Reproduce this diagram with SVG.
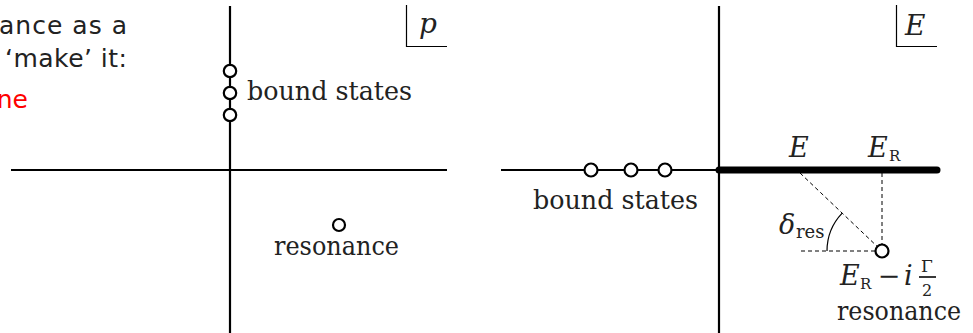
<svg xmlns="http://www.w3.org/2000/svg" width="973" height="333" viewBox="0 0 973 333">
<style>
.ax{stroke:#000;stroke-width:2.2;fill:none}
.thick{stroke:#000;stroke-width:7;stroke-linecap:round;fill:none}
.thin{stroke:#000;stroke-width:1.2;fill:none}
.dash{stroke:#000;stroke-width:1;stroke-dasharray:4 3;fill:none}
.pole{fill:#fff;stroke:#000;stroke-width:2.2}
.rm{font-family:"DejaVu Serif",serif;fill:#222}
.it{font-family:"DejaVu Serif",serif;font-style:italic;fill:#222}
.sans{font-family:"DejaVu Sans",sans-serif;font-size:25px;fill:#222}
</style>
<rect width="973" height="333" fill="#fff"/>
<g id="slide-text">
<text class="sans" x="127" y="34" text-anchor="end" textLength="128" lengthAdjust="spacing">ance as a</text>
<text class="sans" x="127" y="67" text-anchor="end" textLength="122" lengthAdjust="spacing">‘make’ it:</text>
<text class="sans" x="28" y="108" text-anchor="end" style="fill:#ff0000">ne</text>
</g>
<g id="connectors">
<line class="ax" x1="230" y1="6" x2="230" y2="333"/>
<line class="ax" x1="11" y1="170" x2="447" y2="170"/>
<polyline class="thin" points="406.5,5 406.5,46.5 447,46.5"/>
<line class="ax" x1="719" y1="6" x2="719" y2="333"/>
<line class="ax" x1="501" y1="170" x2="719" y2="170"/>
<line class="thick" x1="719" y1="170" x2="937" y2="170"/>
<polyline class="thin" points="896.5,5 896.5,46.5 937,46.5"/>
<line class="dash" x1="800" y1="173" x2="882" y2="251"/>
<line class="dash" x1="882" y1="173" x2="882" y2="251"/>
<line class="dash" x1="801" y1="251" x2="882" y2="251"/>
<path class="thin" d="M827,251 A55,55 0 0 1 842.2,213.1"/>
</g>
<g id="p-label">
<text class="it" x="419" y="33" font-size="28">p</text>
</g>
<g id="E-label">
<text class="it" x="905" y="35" font-size="28">E</text>
</g>
<g id="p-bound-states">
<circle class="pole" cx="230" cy="71" r="6.2"/>
<circle class="pole" cx="230" cy="93" r="6.2"/>
<circle class="pole" cx="230" cy="115" r="6.2"/>
<text class="rm" x="247" y="100" font-size="26" textLength="165" lengthAdjust="spacingAndGlyphs">bound states</text>
</g>
<g id="p-resonance">
<circle class="pole" cx="339" cy="225" r="6"/>
<text class="rm" x="274" y="255" font-size="26" textLength="125" lengthAdjust="spacingAndGlyphs">resonance</text>
</g>
<g id="E-bound-states">
<circle class="pole" cx="591" cy="170" r="6.5"/>
<circle class="pole" cx="631" cy="170" r="6.5"/>
<circle class="pole" cx="665" cy="170" r="6.5"/>
<text class="rm" x="533" y="209" font-size="26" textLength="165" lengthAdjust="spacingAndGlyphs">bound states</text>
</g>
<g id="E-axis-labels">
<text class="it" x="789" y="157" font-size="27">E</text>
<text class="it" x="868" y="157" font-size="27">E</text>
<text class="rm" x="889" y="161" font-size="15">R</text>
</g>
<g id="delta-res">
<text class="it" x="779" y="234" font-size="27">δ</text>
<text class="rm" x="796" y="238" font-size="18">res</text>
</g>
<g id="E-resonance">
<circle class="pole" cx="882" cy="251" r="6.5"/>
<text class="it" x="840" y="285" font-size="27">E</text>
<text class="rm" x="860" y="289" font-size="15">R</text>
<text class="rm" x="889" y="285" font-size="27" text-anchor="middle">−</text>
<text class="it" x="904" y="285" font-size="27">i</text>
<text class="rm" x="927" y="272" font-size="17" text-anchor="middle">Γ</text>
<line x1="919" y1="277" x2="936" y2="277" stroke="#222" stroke-width="1.8"/>
<text class="rm" x="927" y="296" font-size="16" text-anchor="middle">2</text>
<text class="rm" x="837" y="320" font-size="26" textLength="124" lengthAdjust="spacingAndGlyphs">resonance</text>
</g>
</svg>
